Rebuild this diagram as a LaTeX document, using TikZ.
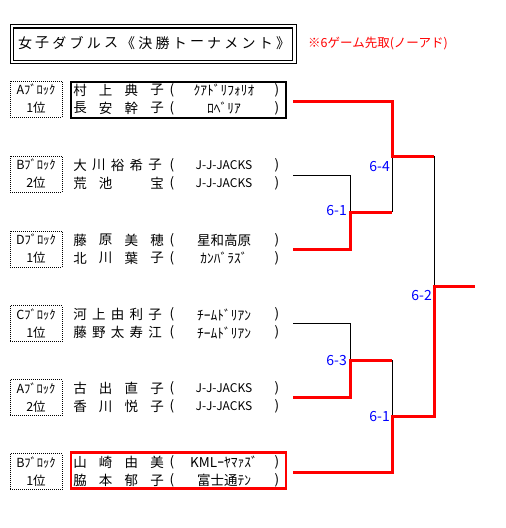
\documentclass[tikz,border=0pt]{standalone}
\usepackage{fontspec}
\setmainfont{Noto Sans CJK JP}
\tikzset{
 nm/.style={inner sep=0pt, font=\fontsize{13.5}{14}\selectfont},
 ttl/.style={inner sep=0pt, font=\fontsize{14}{14}\selectfont},
 blkbox/.style={draw, dash pattern=on 1pt off 1pt, line width=0.9pt, minimum width=52pt, minimum height=36pt, inner sep=0pt},
 blktxt/.style={inner sep=0pt, font=\fontsize{12.5}{12.5}\selectfont},
 namebox/.style={draw, line width=2.5pt, minimum width=215pt, minimum height=36pt, inner sep=0pt},
 score/.style={text=blue, inner sep=0pt, anchor=east, font=\fontsize{14}{14}\selectfont},
 win/.style={red, line width=3pt},
 lose/.style={black, line width=1pt},
}
\newcommand\jj{{\fontsize{12}{12}\selectfont J-J-JACKS}}
\newcommand\blk[4]{%
 \node[blkbox] (#1) at (36,#2) {};
 \node[blktxt] (#1a) at (36,#2-9) {#3};
 \node[blktxt] (#1b) at (36,#2+9) {#4};}
\newcommand\fourname[3]{\foreach \ch [count=\i] in {#3} {\node[nm] (#1c\i) at ({80+(\i-1)*25.67},#2) {\ch};}}
\newcommand\fivename[3]{\foreach \ch [count=\i] in {#3} {\node[nm] (#1c\i) at ({80+(\i-1)*18.75},#2) {\ch};}}
\newcommand\team[3]{\node[nm] (#1o) at (172,#2) {(}; \node[nm] (#1t) at (224,#2) {#3}; \node[nm] (#1e) at (277,#2) {)};}
\begin{document}
\begin{tikzpicture}[x=1pt,y=-1pt]
\useasboundingbox (0,0) rectangle (506,528);
% title
\node[draw, line width=1pt, minimum width=286pt, minimum height=39.3pt, inner sep=0pt] (tb) at (153,44.3) {};
\node[draw, line width=1.3pt, minimum width=279.4pt, minimum height=32.7pt, inner sep=0pt] (tbi) at (153,44.3) {};
\foreach \ch [count=\i] in {女,子,ダ,ブ,ル,ス,《,決,勝,ト,ー,ナ,メ,ン,ト,》} {\node[ttl] (t\i) at ({25+(\i-1)*17.2},43) {\ch};}
\node[anchor=west, inner sep=0pt, text=red, font=\fontsize{12.5}{13}\selectfont] (note) at (308,43) {※6ゲーム先取(ノーアド)};
% group 1
\blk{b1}{99}{Aﾌﾞﾛｯｸ}{1位}
\node[namebox] (nb1) at (178.5,100) {};
\fourname{p1a}{90}{村,上,典,子}\team{p1a}{90}{ｸｱﾄﾞﾘﾌｫﾘｵ}
\fourname{p1b}{108}{長,安,幹,子}\team{p1b}{108}{ﾛﾍﾞﾘｱ}
% group 2
\blk{b2}{174}{Bﾌﾞﾛｯｸ}{2位}
\fivename{p2a}{165}{大,川,裕,希,子}\team{p2a}{165}{\jj}
\fourname{p2b}{183}{荒,池,,宝}\team{p2b}{183}{\jj}
% group 3
\blk{b3}{249}{Dﾌﾞﾛｯｸ}{1位}
\fourname{p3a}{240}{藤,原,美,穂}\team{p3a}{240}{星和高原}
\fourname{p3b}{258}{北,川,葉,子}\team{p3b}{258}{ｶﾝﾊﾞﾗｽﾞ}
% group 4
\blk{b4}{323.5}{Cﾌﾞﾛｯｸ}{1位}
\fivename{p4a}{314.5}{河,上,由,利,子}\team{p4a}{314.5}{ﾁｰﾑﾄﾞﾘｱﾝ}
\fivename{p4b}{332.5}{藤,野,太,寿,江}\team{p4b}{332.5}{ﾁｰﾑﾄﾞﾘｱﾝ}
% group 5
\blk{b5}{397.5}{Aﾌﾞﾛｯｸ}{2位}
\fourname{p5a}{388.5}{古,出,直,子}\team{p5a}{388.5}{\jj}
\fourname{p5b}{406.5}{香,川,悦,子}\team{p5b}{406.5}{\jj}
% group 6
\blk{b6}{471.5}{Bﾌﾞﾛｯｸ}{1位}
\node[namebox, draw=red] (nb6) at (178.5,470.5) {};
\fourname{p6a}{462.5}{山,崎,由,美}\team{p6a}{462.5}{KMLｰﾔﾏｧｽﾞ}
\fourname{p6b}{480.5}{脇,本,郁,子}\team{p6b}{480.5}{富士通ﾃﾝ}
% bracket coordinates
\coordinate (g1) at (293,101); \coordinate (g2) at (293,175);
\coordinate (g3) at (293,249); \coordinate (g4) at (293,323);
\coordinate (g5) at (293,397); \coordinate (g6) at (293,472);
\coordinate (m1t) at (350,175); \coordinate (m1b) at (350,249);
\coordinate (m1) at (350,212); \coordinate (m1w) at (392,212);
\coordinate (m2t) at (392,101); \coordinate (m2) at (392,156); \coordinate (m2w) at (434,156);
\coordinate (m3t) at (350,323); \coordinate (m3b) at (350,397);
\coordinate (m3) at (350,360); \coordinate (m3w) at (392,360);
\coordinate (m4b) at (392,472); \coordinate (m4) at (392,416); \coordinate (m4w) at (434,416);
\coordinate (f) at (434,286); \coordinate (fw) at (475,286);
% losing lines
\draw[lose] (g2) -- (m1t) -- (m1);
\draw[lose] (g4) -- (m3t) -- (m3);
\draw[lose] (m1w) -- (m2);
\draw[lose] (m3w) -- (m4);
\draw[lose] (m2w) -- (f);
% winning lines
\draw[win] (g1) -- (m2t) -- (m2) -- (m2w);
\draw[win] (g3) -- (m1b) -- (m1) -- (m1w);
\draw[win] (g5) -- (m3b) -- (m3) -- (m3w);
\draw[win] (g6) -- (m4b) -- (m4) -- (m4w) -- (f) -- (fw);
% scores
\node[score] (s1) at (347,211) {6-1};
\node[score] (s2) at (390,167) {6-4};
\node[score] (s3) at (347,361) {6-3};
\node[score] (s4) at (390,417) {6-1};
\node[score] (s5) at (432,296) {6-2};
\end{tikzpicture}
\end{document}
